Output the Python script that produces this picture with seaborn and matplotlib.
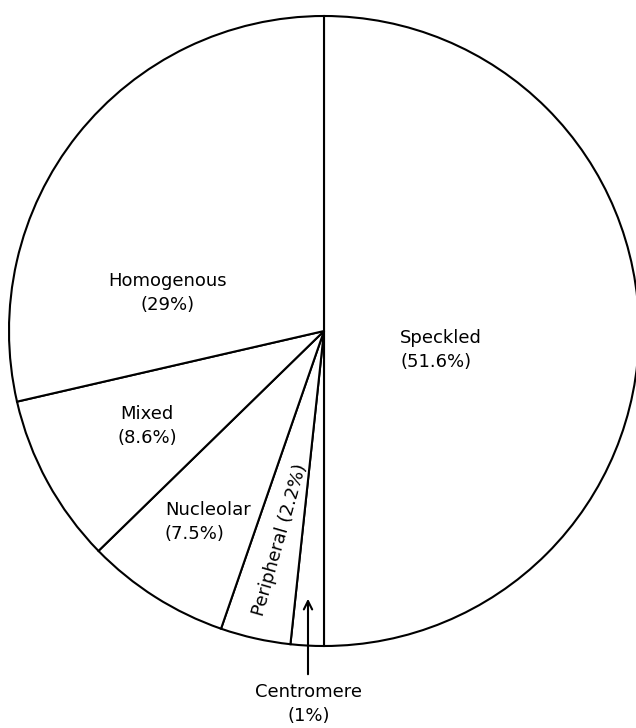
import matplotlib
matplotlib.use("Agg")
import matplotlib.pyplot as plt
import seaborn as sns

# slices in drawing order (clockwise from 12 o'clock)
names = ["Speckled", "Centromere", "Peripheral", "Nucleolar", "Mixed", "Homogenous"]
stated_pct = ["51.6", "1", "2.2", "7.5", "8.6", "29"]
# share of the circle each slice takes as drawn in the picture
drawn_share = [50.0, 1.7, 3.6, 7.4, 8.7, 28.6]

sns.set_theme(style="white")
plt.rcParams["font.family"] = ["DejaVu Sans"]
plt.rcParams["text.color"] = "black"

W, H = 636, 728
fig = plt.figure(figsize=(W / 100, H / 100), dpi=100)
ax = fig.add_axes([0, 0, 1, 1])


def py(y):
    # picture rows (top down) -> axis y (bottom up)
    return H - y


ax.pie(drawn_share, startangle=90, counterclock=False,
       center=(324, py(331)), radius=315,
       colors=["white"] * len(drawn_share),
       wedgeprops=dict(edgecolor="black", linewidth=1.5))

ax.set_xlim(0, W)
ax.set_ylim(0, H)
ax.set_aspect("equal")
ax.axis("off")

fs = 13
ls = 1.42

def lab(i):
    return f"{names[i]}\n({stated_pct[i]}%)"

ax.text(400, py(350), lab(0), fontsize=fs, ha="left", va="center",
        linespacing=ls, color="black")
ax.text(168, py(293), lab(5), fontsize=fs, ha="center", va="center",
        multialignment="center", linespacing=ls, color="black")
ax.text(147, py(426), lab(4), fontsize=fs, ha="center", va="center",
        multialignment="center", linespacing=ls, color="black")
ax.text(165, py(522), lab(3), fontsize=fs, ha="left", va="center",
        linespacing=ls, color="black")
ax.text(280, py(540), f"{names[2]} ({stated_pct[2]}%)", fontsize=fs,
        ha="center", va="center", rotation=74, rotation_mode="anchor",
        color="black")
ax.text(309, py(704), lab(1), fontsize=fs, ha="center", va="center",
        multialignment="center", linespacing=ls, color="black")

ax.annotate("", xy=(308, py(596)), xytext=(308, py(677)),
            arrowprops=dict(arrowstyle="->,head_length=0.5,head_width=0.25",
                            color="black", lw=1.5))

fig.savefig("out.png", dpi=100, facecolor="white")
